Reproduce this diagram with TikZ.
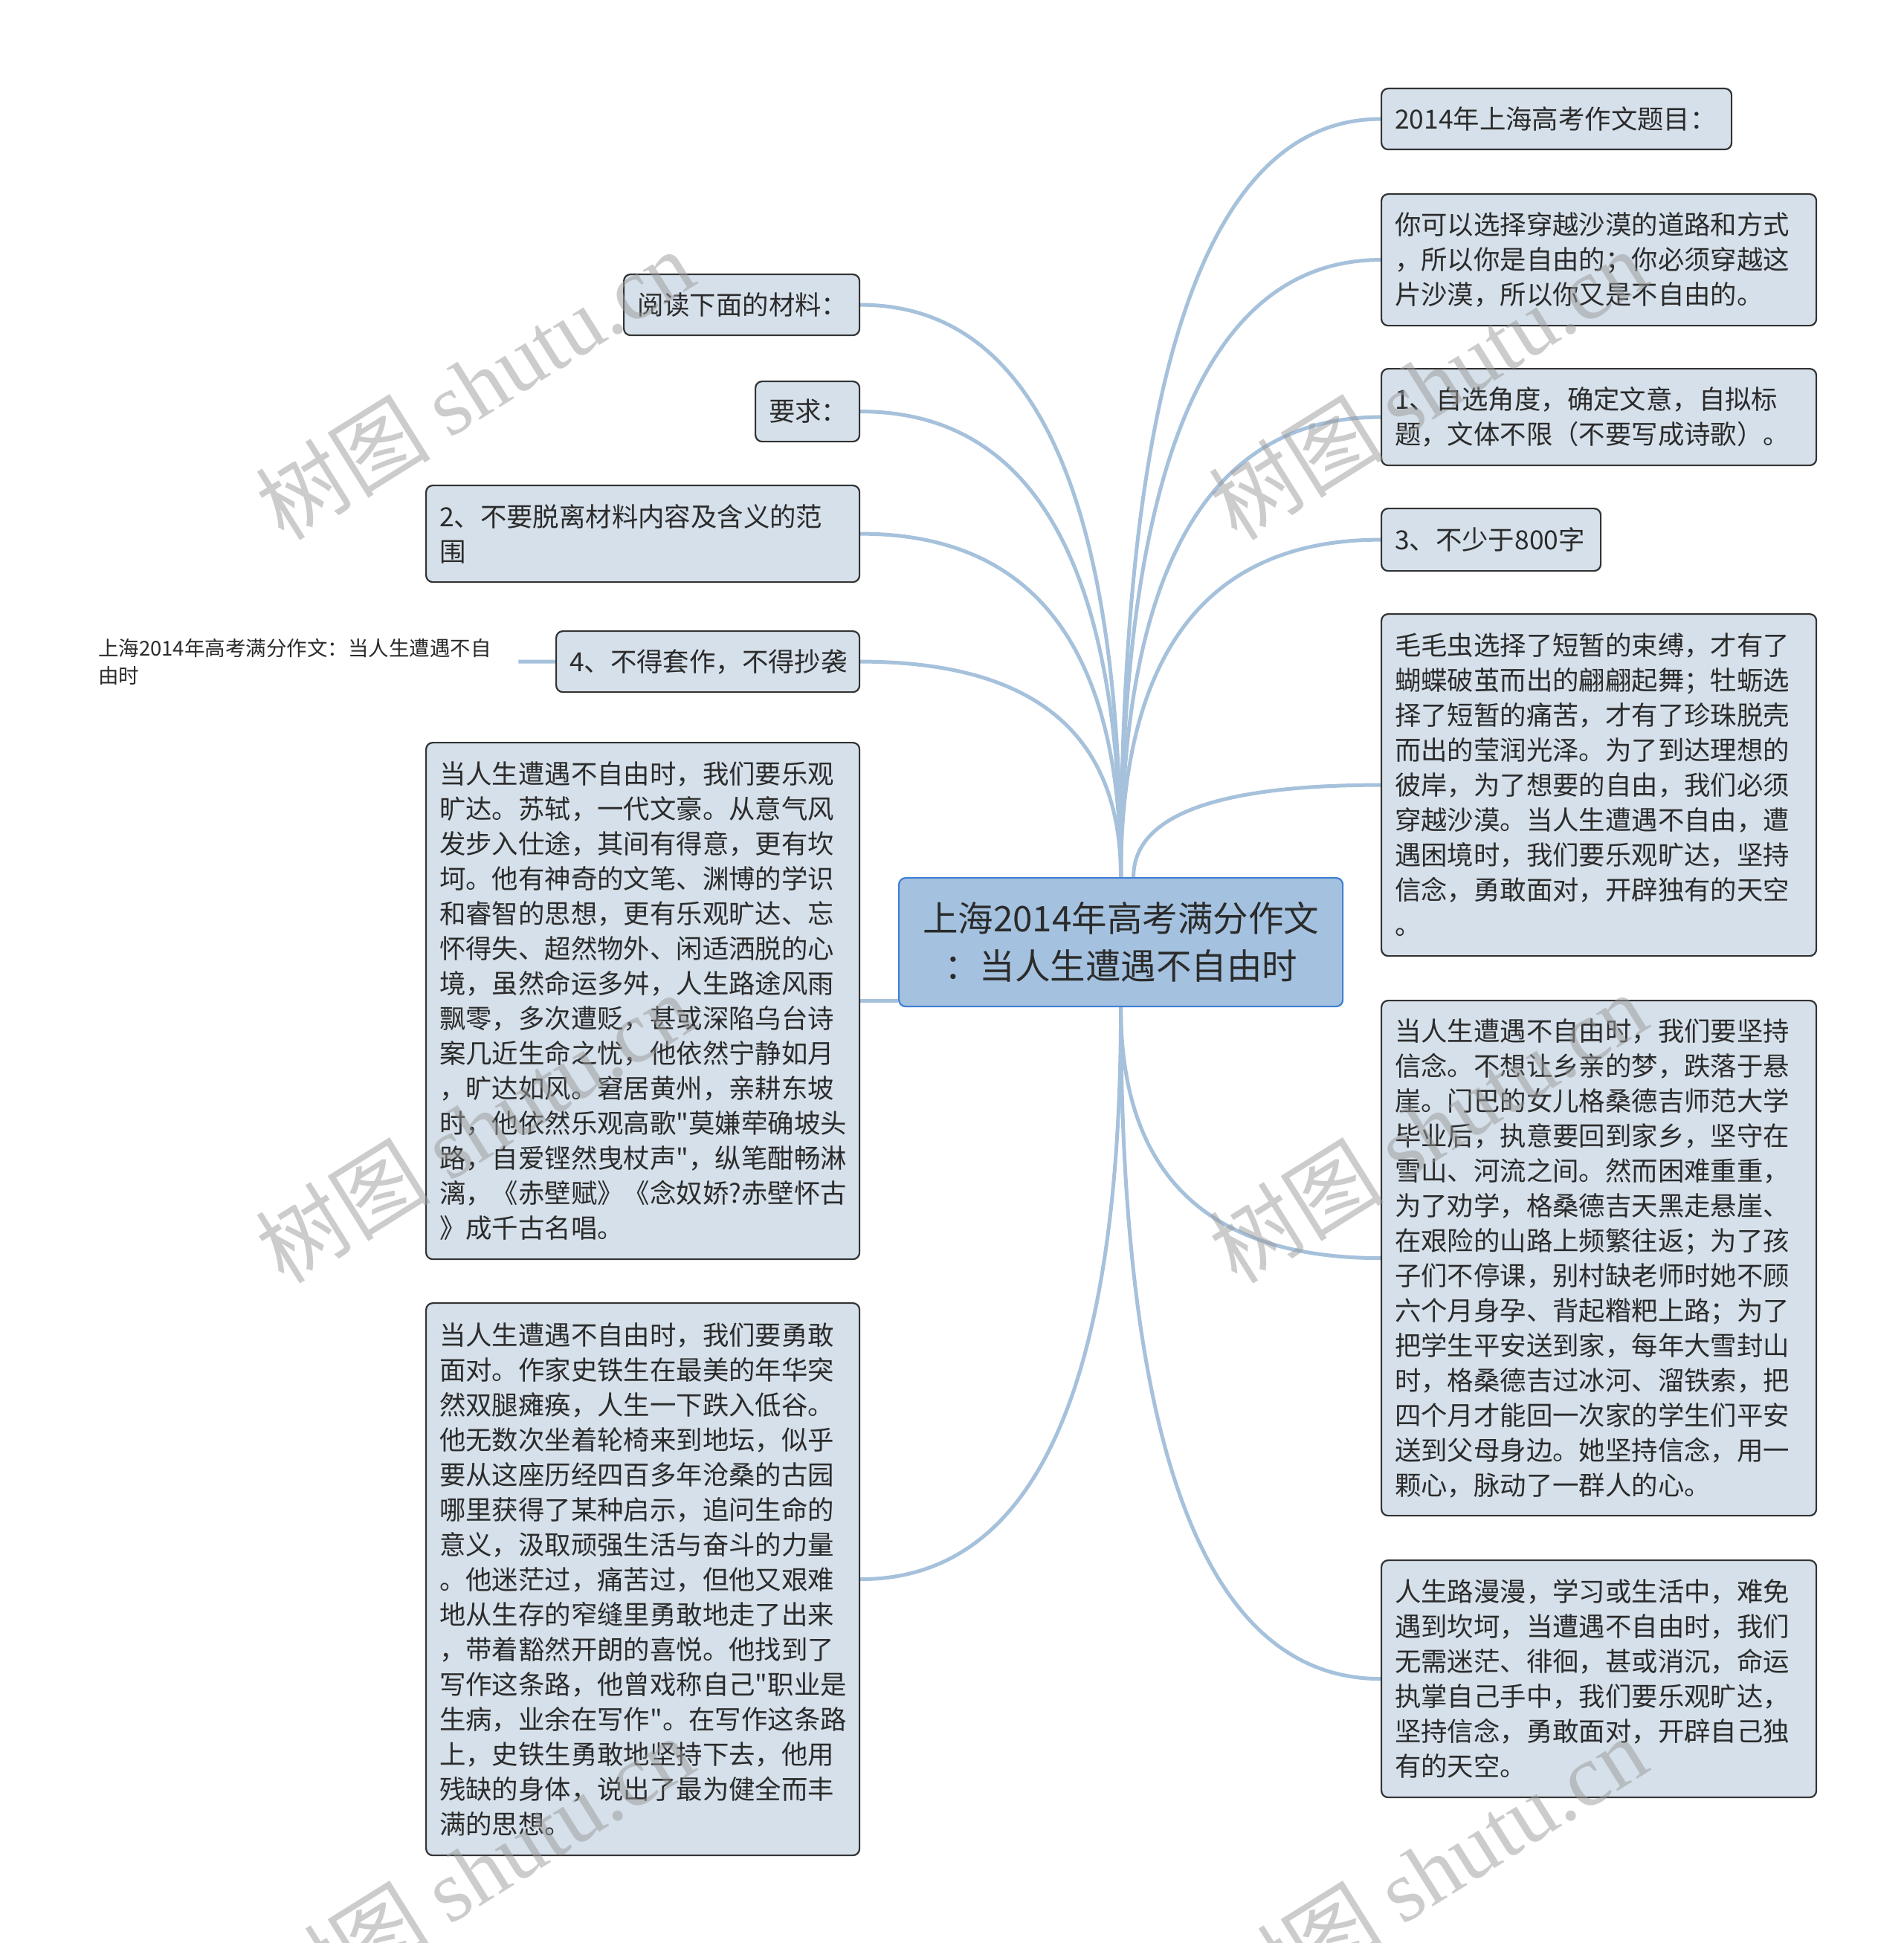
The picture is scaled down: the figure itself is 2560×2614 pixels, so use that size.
\documentclass[tikz,border=0pt]{standalone}
\usepackage{fontspec}
\setmainfont{Noto Sans CJK SC}
\newfontfamily\cjk{Noto Sans CJK SC}
\newfontfamily\wmlatin{Liberation Serif}
\usetikzlibrary{calc,backgrounds}
\definecolor{boxfill}{HTML}{D5E0EA}
\definecolor{boxline}{HTML}{333333}
\definecolor{rootfill}{HTML}{A4C2DF}
\definecolor{rootline}{HTML}{3F7FD4}
\definecolor{linkc}{HTML}{A6C1DB}
\definecolor{txt}{HTML}{2B2B2B}
\definecolor{wmc}{HTML}{9A9A9A}
\tikzset{
  box/.style={draw=boxline, line width=2.2pt, fill=boxfill, rounded corners=9pt,
    anchor=north west, inner xsep=18pt, inner ysep=0pt, align=left,
    font=\cjk\fontsize{35.4}{47}\selectfont, text=txt},
  root/.style={draw=rootline, line width=2.2pt, fill=rootfill, rounded corners=9pt,
    anchor=north west, inner sep=0pt, align=center,
    font=\cjk\fontsize{47.5}{64}\selectfont, text=txt},
  link/.style={draw=linkc, line width=5pt},
  wm/.style={rotate=32, text=wmc, opacity=0.5, inner sep=0pt,
    font=\cjk\fontsize{118}{128}\selectfont}
}
\newcommand\mmcurve[2]{\draw[link] (#1) .. controls ($(#1)!0.667!(#1|-#2)$) and ($(#2)!0.667!(#1|-#2)$) .. (#2);}
\begin{document}
\begin{tikzpicture}[x=1pt,y=-1pt]
\useasboundingbox (0,0) rectangle (2560,2614);
% centre
\node[root, minimum width=597pt, minimum height=173pt] (c) at (1208,1180)
  {上海2014年高考满分作文\\：当人生遭遇不自由时};
% right side
\node[box, minimum width=471pt, minimum height=82pt, text width=435pt] (r1) at (1857,118)
  {2014年上海高考作文题目：};
\node[box, minimum width=585pt, minimum height=177pt, text width=549pt] (r2) at (1857,260)
  {你可以选择穿越沙漠的道路和方式\\，所以你是自由的；你必须穿越这\\片沙漠，所以你又是不自由的。};
\node[box, minimum width=585pt, minimum height=130pt, text width=549pt] (r3) at (1857,495)
  {1、自选角度，确定文意，自拟标\\题，文体不限（不要写成诗歌）。};
\node[box, minimum width=295pt, minimum height=84pt, text width=259pt] (r4) at (1857,683)
  {3、不少于800字};
\node[box, minimum width=585pt, minimum height=460pt, text width=549pt] (r5) at (1857,825)
  {毛毛虫选择了短暂的束缚，才有了\\蝴蝶破茧而出的翩翩起舞；牡蛎选\\择了短暂的痛苦，才有了珍珠脱壳\\而出的莹润光泽。为了到达理想的\\彼岸，为了想要的自由，我们必须\\穿越沙漠。当人生遭遇不自由，遭\\遇困境时，我们要乐观旷达，坚持\\信念，勇敢面对，开辟独有的天空\\。};
\node[box, minimum width=585pt, minimum height=693pt, text width=549pt] (r6) at (1857,1345)
  {当人生遭遇不自由时，我们要坚持\\信念。不想让乡亲的梦，跌落于悬\\崖。门巴的女儿格桑德吉师范大学\\毕业后，执意要回到家乡，坚守在\\雪山、河流之间。然而困难重重，\\为了劝学，格桑德吉天黑走悬崖、\\在艰险的山路上频繁往返；为了孩\\子们不停课，别村缺老师时她不顾\\六个月身孕、背起糌粑上路；为了\\把学生平安送到家，每年大雪封山\\时，格桑德吉过冰河、溜铁索，把\\四个月才能回一次家的学生们平安\\送到父母身边。她坚持信念，用一\\颗心，脉动了一群人的心。};
\node[box, minimum width=585pt, minimum height=319pt, text width=549pt] (r7) at (1857,2098)
  {人生路漫漫，学习或生活中，难免\\遇到坎坷，当遭遇不自由时，我们\\无需迷茫、徘徊，甚或消沉，命运\\执掌自己手中，我们要乐观旷达，\\坚持信念，勇敢面对，开辟自己独\\有的天空。};
% left side
\node[box, minimum width=317pt, minimum height=82pt, text width=281pt] (l1) at (838,368)
  {阅读下面的材料：};
\node[box, minimum width=140pt, minimum height=81pt, text width=104pt] (l2) at (1015,512)
  {要求：};
\node[box, minimum width=583pt, minimum height=130pt, text width=547pt] (l3) at (572,652)
  {2、不要脱离材料内容及含义的范\\围};
\node[box, minimum width=408pt, minimum height=82pt, text width=372pt] (l4) at (747,848)
  {4、不得套作，不得抄袭};
\node[box, minimum width=583pt, minimum height=695pt, text width=547pt] (l5) at (572,998)
  {当人生遭遇不自由时，我们要乐观\\旷达。苏轼，一代文豪。从意气风\\发步入仕途，其间有得意，更有坎\\坷。他有神奇的文笔、渊博的学识\\和睿智的思想，更有乐观旷达、忘\\怀得失、超然物外、闲适洒脱的心\\境，虽然命运多舛，人生路途风雨\\飘零，多次遭贬，甚或深陷乌台诗\\案几近生命之忧，他依然宁静如月\\，旷达如风。窘居黄州，亲耕东坡\\时，他依然乐观高歌"莫嫌荦确坡头\\路，自爱铿然曳杖声"，纵笔酣畅淋\\漓，《赤壁赋》《念奴娇?赤壁怀古\\》成千古名唱。};
\node[box, minimum width=583pt, minimum height=743pt, text width=547pt] (l6) at (572,1752)
  {当人生遭遇不自由时，我们要勇敢\\面对。作家史铁生在最美的年华突\\然双腿瘫痪，人生一下跌入低谷。\\他无数次坐着轮椅来到地坛，似乎\\要从这座历经四百多年沧桑的古园\\哪里获得了某种启示，追问生命的\\意义，汲取顽强生活与奋斗的力量\\。他迷茫过，痛苦过，但他又艰难\\地从生存的窄缝里勇敢地走了出来\\，带着豁然开朗的喜悦。他找到了\\写作这条路，他曾戏称自己"职业是\\生病，业余在写作"。在写作这条路\\上，史铁生勇敢地坚持下去，他用\\残缺的身体，说出了最为健全而丰\\满的思想。};
% floating title
\node[anchor=west, inner sep=0pt, text width=565pt, align=left, text=txt,
  font=\cjk\fontsize{27.5}{37}\selectfont] (ttl) at (132,890)
  {上海2014年高考满分作文：当人生遭遇不自\\由时};
\coordinate (c5) at ([xshift=17pt]c.north);
\begin{pgfonlayer}{background}
\fill[white] (0,0) rectangle (2560,2614);
\mmcurve{c.north}{r1.west}
\mmcurve{c.north}{r2.west}
\mmcurve{c.north}{r3.west}
\mmcurve{c.north}{r4.west}
\mmcurve{c5}{r5.west}
\mmcurve{c.south}{r6.west}
\mmcurve{c.south}{r7.west}
\mmcurve{c.north}{l1.east}
\mmcurve{c.north}{l2.east}
\mmcurve{c.north}{l3.east}
\mmcurve{c.north}{l4.east}
\mmcurve{c.south}{l6.east}
\draw[link] (l5.east) -- (c.west |- l5.east);
\draw[link] (ttl.east) -- (l4.west);
\end{pgfonlayer}
% watermarks
\node[wm] (w1) at (638,517) {树图 {\wmlatin shutu.cn}};
\node[wm] (w2) at (1920,517) {树图 {\wmlatin shutu.cn}};
\node[wm] (w3) at (638,1517) {树图 {\wmlatin shutu.cn}};
\node[wm] (w4) at (1920,1517) {树图 {\wmlatin shutu.cn}};
\node[wm] (w5) at (638,2517) {树图 {\wmlatin shutu.cn}};
\node[wm] (w6) at (1920,2517) {树图 {\wmlatin shutu.cn}};
\end{tikzpicture}
\end{document}
